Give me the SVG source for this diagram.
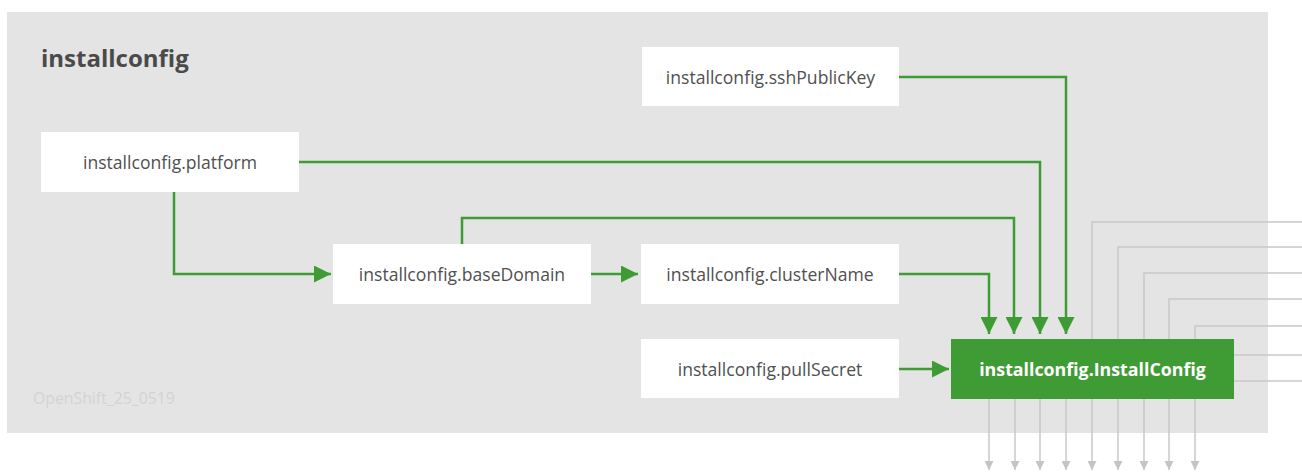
<svg xmlns="http://www.w3.org/2000/svg" width="1302" height="473" viewBox="0 0 1302 473">
<defs>
<marker id="ga" viewBox="0 0 10 10" refX="10" refY="5" markerWidth="17" markerHeight="17" markerUnits="userSpaceOnUse" orient="auto"><path d="M0,0 L10,5 L0,10 Z" fill="#3f9c35"/></marker>
<marker id="gr" viewBox="0 0 10 10" refX="10" refY="5" markerWidth="9" markerHeight="9" markerUnits="userSpaceOnUse" orient="auto"><path d="M0,0 L10,5 L0,10 Z" fill="#c4c4c4"/></marker>
<style>
.box{fill:#ffffff}
.lbl{font-family:"Open Sans","Liberation Sans",sans-serif;font-size:17.6px;fill:#505050;text-anchor:middle;dominant-baseline:central}
.g{fill:none;stroke:#3f9c35;stroke-width:2.5}
.gr{fill:none;stroke:#c8c8c8;stroke-width:1.5}
</style>
</defs>
<rect x="7" y="12" width="1261" height="421" fill="#e4e4e4"/>
<text x="41" y="67" font-family="'Open Sans','Liberation Sans',sans-serif" font-size="24" font-weight="bold" fill="#4a4a4a">installconfig</text>
<text x="33" y="404" font-family="'Open Sans','Liberation Sans',sans-serif" font-size="15.8" fill="#d3d3d3">OpenShift_25_0519</text>
<g id="connectors">
<path class="gr" d="M1092,399 V470" marker-end="url(#gr)"/>
<path class="gr" d="M989,399 V470" marker-end="url(#gr)"/>
<path class="gr" d="M1015,399 V470" marker-end="url(#gr)"/>
<path class="gr" d="M1040,399 V470" marker-end="url(#gr)"/>
<path class="gr" d="M1066,399 V470" marker-end="url(#gr)"/>
<path class="gr" d="M1118,399 V470" marker-end="url(#gr)"/>
<path class="gr" d="M1144,399 V470" marker-end="url(#gr)"/>
<path class="gr" d="M1169,399 V470" marker-end="url(#gr)"/>
<path class="gr" d="M1195,399 V470" marker-end="url(#gr)"/>
<path class="gr" d="M1302,222 H1092 V339"/>
<path class="gr" d="M1302,247 H1118 V339"/>
<path class="gr" d="M1302,273 H1144 V339"/>
<path class="gr" d="M1302,299 H1169 V339"/>
<path class="gr" d="M1302,326 H1195 V339"/>
<path class="gr" d="M1234,355 H1302"/>
<path class="gr" d="M1234,381 H1302"/>
<path class="g" d="M899,274 H989 V334" marker-end="url(#ga)"/>
<path class="g" d="M462,244 V218 H1014 V334" marker-end="url(#ga)"/>
<path class="g" d="M299,162 H1040 V334" marker-end="url(#ga)"/>
<path class="g" d="M899,77 H1066 V334" marker-end="url(#ga)"/>
<path class="g" d="M174,192 V274 H331" marker-end="url(#ga)"/>
<path class="g" d="M591,274 H638" marker-end="url(#ga)"/>
<path class="g" d="M899,369 H949" marker-end="url(#ga)"/>
</g>
<g id="sshPublicKey"><rect class="box" x="642" y="47" width="257" height="59"/><text class="lbl" x="770.5" y="77">installconfig.sshPublicKey</text></g>
<g id="platform"><rect class="box" x="41" y="132" width="258" height="60"/><text class="lbl" x="170" y="162">installconfig.platform</text></g>
<g id="baseDomain"><rect class="box" x="333" y="244" width="258" height="60"/><text class="lbl" x="462" y="274">installconfig.baseDomain</text></g>
<g id="clusterName"><rect class="box" x="641" y="244" width="258" height="60"/><text class="lbl" x="770" y="274">installconfig.clusterName</text></g>
<g id="pullSecret"><rect class="box" x="641" y="339" width="258" height="59"/><text class="lbl" x="770" y="369">installconfig.pullSecret</text></g>
<g id="InstallConfig"><rect x="951" y="339" width="283" height="60" fill="#3f9c35"/><text x="1092.5" y="369" font-family="'Open Sans','Liberation Sans',sans-serif" font-size="17.8" font-weight="bold" fill="#ffffff" text-anchor="middle" dominant-baseline="central">installconfig.InstallConfig</text></g>
</svg>
